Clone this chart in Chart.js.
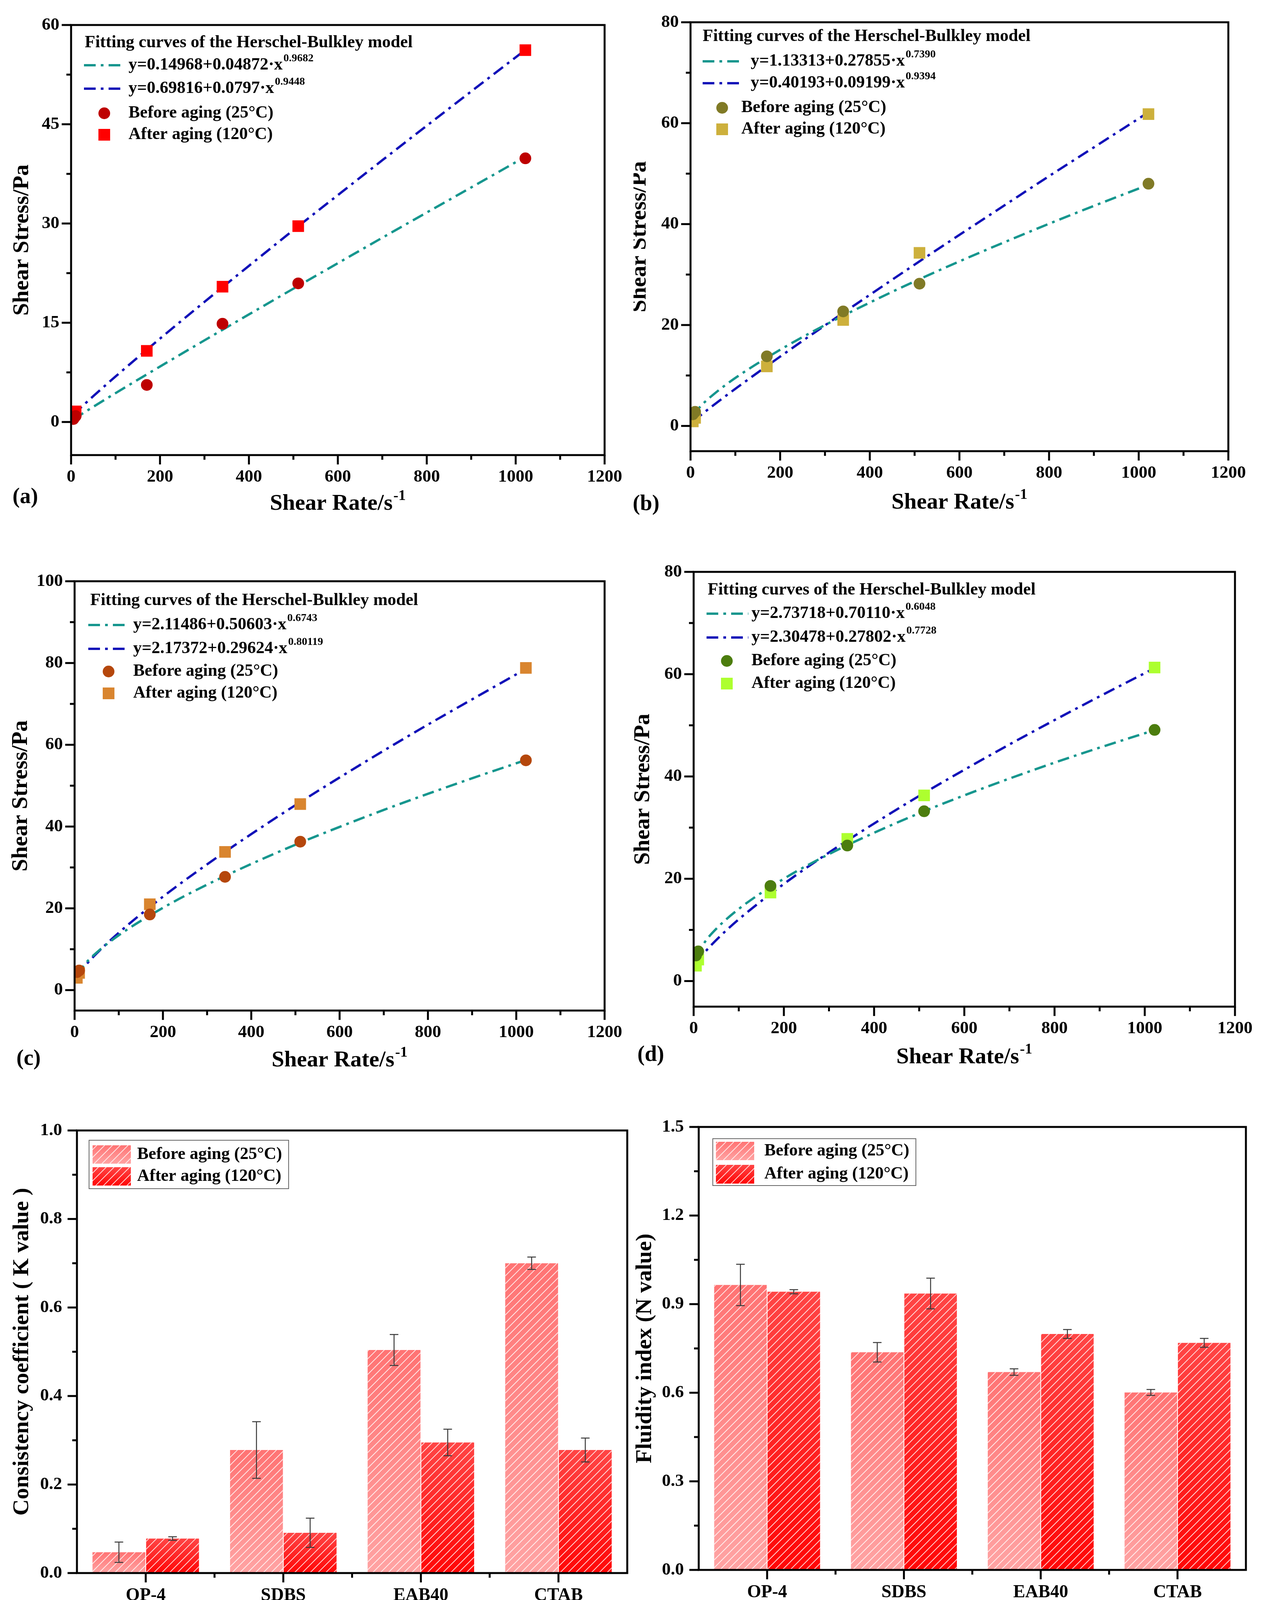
<!DOCTYPE html>
<html>
<head>
<meta charset="utf-8">
<title>Herschel-Bulkley fitting curves and K / N values</title>
<script src="https://cdn.jsdelivr.net/npm/chart.js@4.4.0/dist/chart.umd.min.js"></script>
<style>
  html, body { margin: 0; padding: 0; background: #fff; }
  #page { position: relative; width: 3244px; height: 4219px; overflow: hidden; background: #fff; }
  #page canvas { position: absolute; }
</style>
</head>
<body>
<div id="page"></div>
<script>
// ---- values ----
const shearRates = [5.11, 10.22, 170.3, 340.6, 510.9, 1021.8];
const fitRates = [5, 25, 50, 100, 200, 300, 400, 500, 600, 700, 800, 900, 1020];

const stressBeforeA = [0.45, 0.9, 5.6, 14.85, 20.95, 39.85];
const stressAfterA = [1.0, 1.6, 10.75, 20.45, 29.6, 56.2];
const fitBeforeA = [0.38, 1.25, 2.30, 4.36, 8.38, 12.34, 16.26, 20.15, 24.00, 27.85, 31.66, 35.45, 40.02];
const fitAfterA = [1.06, 2.37, 3.91, 6.88, 12.60, 18.15, 23.60, 29.00, 34.29, 39.56, 44.78, 49.96, 56.15];

const stressBeforeB = [2.3, 2.8, 13.8, 22.7, 28.2, 48.0];
const stressAfterB = [0.9, 1.6, 11.8, 21.0, 34.3, 61.8];
const fitBeforeB = [2.05, 4.14, 6.15, 9.51, 15.10, 19.99, 24.45, 28.65, 32.61, 36.40, 40.07, 43.61, 47.73];
const fitAfterB = [0.82, 2.29, 4.03, 7.36, 13.74, 19.93, 25.98, 31.97, 37.86, 43.69, 49.51, 55.21, 62.06];

const stressBeforeC = [4.4, 4.8, 18.5, 27.7, 36.3, 56.2];
const stressAfterC = [3.0, 4.2, 21.0, 33.8, 45.5, 78.8];
const fitBeforeC = [3.61, 6.55, 9.19, 13.41, 20.13, 25.80, 30.86, 35.56, 39.92, 44.07, 48.01, 51.81, 56.21];
const fitAfterC = [3.25, 6.08, 8.98, 14.03, 22.84, 30.76, 38.16, 45.24, 52.00, 58.57, 64.94, 71.11, 78.45];

const stressBeforeD = [5.0, 5.8, 18.6, 26.5, 33.2, 49.1];
const stressAfterD = [3.0, 4.2, 17.3, 27.8, 36.3, 61.3];
const fitBeforeD = [4.59, 7.65, 10.21, 14.10, 20.01, 24.82, 28.99, 32.81, 36.31, 39.59, 42.70, 45.64, 49.01];
const fitAfterD = [3.27, 5.65, 8.02, 12.07, 18.99, 25.13, 30.80, 36.20, 41.31, 46.26, 51.02, 55.66, 61.10];

const emulsifiers = ['OP-4', 'SDBS', 'EAB40', 'CTAB'];
const kBefore = [0.047, 0.278, 0.504, 0.700];
const kBeforeErr = [0.023, 0.064, 0.035, 0.014];
const kAfter = [0.078, 0.091, 0.295, 0.278];
const kAfterErr = [0.004, 0.033, 0.030, 0.027];
const nBefore = [0.965, 0.737, 0.670, 0.601];
const nBeforeErr = [0.070, 0.033, 0.011, 0.010];
const nAfter = [0.942, 0.936, 0.799, 0.769];
const nAfterErr = [0.007, 0.052, 0.015, 0.015];

const shearRateTicks = [0, 200, 400, 600, 800, 1000, 1200];
const stressTicksA = [0, 15, 30, 45, 60];
const stressTicksBD = [0, 20, 40, 60, 80];
const stressTicksC = [0, 20, 40, 60, 80, 100];
const kTicks = [0, 0.2, 0.4, 0.6, 0.8, 1.0];
const nTicks = [0, 0.3, 0.6, 0.9, 1.2, 1.5];

// ---- styling ----
const FAMILY = "'Liberation Serif', 'Times New Roman', Times, serif";
const font = (px) => 'bold ' + px + 'px ' + FAMILY;
const FIT_DASH = [30, 13, 7, 13];
const TEAL = '#16968e';
const NAVY = '#1212b8';
const LEGEND_TITLE = 'Fitting curves of the Herschel-Bulkley model';
const BEFORE_LABEL = 'Before aging (25°C)';
const AFTER_LABEL = 'After aging (120°C)';
const WY = 120, HX = 100;
const specs = {};

function makeCanvas(id, cell) {
  const c = document.createElement('canvas');
  c.id = id;
  c.width = cell[2];
  c.height = cell[3];
  c.style.left = cell[0] + 'px';
  c.style.top = cell[1] + 'px';
  c.style.width = cell[2] + 'px';
  c.style.height = cell[3] + 'px';
  document.getElementById('page').appendChild(c);
  return c;
}

function layoutPadding(cell, plot) {
  return {
    left: plot[0] - cell[0] - WY,
    top: plot[1] - cell[1],
    right: cell[0] + cell[2] - plot[2],
    bottom: cell[1] + cell[3] - plot[3] - HX,
  };
}

const fixedTicks = (values) => (scale) => { scale.ticks = values.map(v => ({ value: v })); };
const zip = (xs, ys) => xs.map((x, i) => ({ x: x, y: ys[i] }));

function midpoints(vals) {
  const out = [];
  for (let i = 0; i + 1 < vals.length; i++) out.push((vals[i] + vals[i + 1]) / 2);
  return out;
}

function seg(ctx, x0, y0, x1, y1) {
  ctx.beginPath();
  ctx.moveTo(x0, y0);
  ctx.lineTo(x1, y1);
  ctx.stroke();
}

// white "/" hatching inside a rectangle, anchored to a global grid
function hatch(ctx, x0, y0, x1, y1) {
  const step = 20;
  ctx.save();
  ctx.beginPath();
  ctx.rect(x0, y0, x1 - x0, y1 - y0);
  ctx.clip();
  ctx.strokeStyle = 'rgba(255,255,255,0.8)';
  ctx.lineWidth = 2;
  ctx.beginPath();
  const kFrom = Math.floor((x0 + y0) / step) - 1;
  const kTo = Math.ceil((x1 + y1) / step) + 1;
  for (let k = kFrom; k <= kTo; k++) {
    const c = k * step;
    ctx.moveTo(c - y1, y1);
    ctx.lineTo(c - y0, y0);
  }
  ctx.stroke();
  ctx.restore();
}

function barGradient(top, bottom) {
  return (c) => {
    const chart = c.chart;
    if (!chart.chartArea || c.type !== 'data') return top;
    const ys = chart.scales.y;
    const y0 = ys.getPixelForValue(c.raw);
    const y1 = ys.getPixelForValue(0);
    const g = chart.ctx.createLinearGradient(0, y0, 0, Math.max(y1, y0 + 1));
    g.addColorStop(0, top);
    g.addColorStop(1, bottom);
    return g;
  };
}

function drawSup(ctx, base, sup, x, y, size, supSize, rise) {
  ctx.font = font(size);
  ctx.fillText(base, x, y);
  const w = ctx.measureText(base).width;
  ctx.font = font(supSize);
  ctx.fillText(sup, x + w + 2, y - rise);
}

const panelPlugin = {
  id: 'panelDecor',
  afterDatasetsDraw(chart) {
    const s = specs[chart.canvas.id];
    if (!s || s.kind !== 'bar') return;
    const ctx = chart.ctx, ys = chart.scales.y;
    chart.data.datasets.forEach((ds, i) => {
      chart.getDatasetMeta(i).data.forEach(bar => {
        const p = bar.getProps(['x', 'y', 'base', 'width'], true);
        hatch(ctx, p.x - p.width / 2, p.y, p.x + p.width / 2, p.base);
      });
    });
    ctx.save();
    ctx.strokeStyle = '#3a3a3a';
    ctx.lineWidth = 2.5;
    chart.data.datasets.forEach((ds, i) => {
      chart.getDatasetMeta(i).data.forEach((bar, j) => {
        const v = ds.data[j], e = s.errors[i][j];
        const yt = ys.getPixelForValue(v + e), yb = ys.getPixelForValue(v - e);
        seg(ctx, bar.x, yt, bar.x, yb);
        seg(ctx, bar.x - 11, yt, bar.x + 11, yt);
        seg(ctx, bar.x - 11, yb, bar.x + 11, yb);
      });
    });
    ctx.restore();
  },
  afterDraw(chart) {
    const s = specs[chart.canvas.id];
    if (!s) return;
    const ctx = chart.ctx, a = chart.chartArea, xs = chart.scales.x, ys = chart.scales.y;
    const ox = s.cell[0], oy = s.cell[1];
    ctx.save();
    ctx.strokeStyle = '#000';
    ctx.lineWidth = 5;
    // ticks, outward: long major, short minor
    s.yTicks.forEach(v => { const p = ys.getPixelForValue(v); seg(ctx, a.left - 24, p, a.left, p); });
    midpoints(s.yTicks).forEach(v => { const p = ys.getPixelForValue(v); seg(ctx, a.left - 12, p, a.left, p); });
    let xMajor, xMinor;
    if (s.kind === 'bar') {
      xMajor = chart.data.labels.map((_, i) => xs.getPixelForValue(i));
      xMinor = midpoints(xMajor);
    } else {
      xMajor = s.xTicks.map(v => xs.getPixelForValue(v));
      xMinor = midpoints(s.xTicks).map(v => xs.getPixelForValue(v));
    }
    xMajor.forEach(p => seg(ctx, p, a.bottom, p, a.bottom + 24));
    xMinor.forEach(p => seg(ctx, p, a.bottom, p, a.bottom + 12));
    ctx.strokeRect(a.left, a.top, a.right - a.left, a.bottom - a.top);

    ctx.fillStyle = '#000';
    ctx.textBaseline = 'middle';
    // y title
    ctx.save();
    ctx.translate(a.left - s.yTitleDx, (a.top + a.bottom) / 2);
    ctx.rotate(-Math.PI / 2);
    ctx.textAlign = 'center';
    ctx.font = font(58);
    ctx.fillText(s.yTitle, 0, 0);
    ctx.restore();
    // x title
    const cx = (a.left + a.right) / 2, ty = s.xTitleY - oy;
    ctx.textAlign = 'left';
    if (s.xTitleSup) {
      ctx.font = font(58);
      const w1 = ctx.measureText(s.xTitle).width;
      ctx.font = font(38);
      const w2 = ctx.measureText(s.xTitleSup).width;
      drawSup(ctx, s.xTitle, s.xTitleSup, cx - (w1 + w2 + 2) / 2, ty, 58, 38, 20);
    } else {
      ctx.textAlign = 'center';
      ctx.font = font(58);
      ctx.fillText(s.xTitle, cx, ty);
      ctx.textAlign = 'left';
    }
    // panel letter
    ctx.font = font(56);
    ctx.fillText(s.letter, s.letterX - ox, s.letterY - oy);

    // legend
    const L = s.legend;
    if (s.kind === 'scatter') {
      ctx.font = font(44);
      ctx.fillText(LEGEND_TITLE, L.titleX - ox, L.titleY - oy);
      s.fits.forEach((f, i) => {
        const y = L.rows[i] - oy;
        ctx.save();
        ctx.strokeStyle = f.color;
        ctx.lineWidth = 6;
        ctx.setLineDash(FIT_DASH);
        seg(ctx, L.lineX0 - ox, y, L.lineX1 - ox, y);
        ctx.restore();
        drawSup(ctx, f.base, f.sup, L.fitTextX - ox, y, 44, 28, 17);
      });
      s.markers.forEach((m, i) => {
        const y = L.rows[i + 2] - oy, x = L.markerX - ox;
        ctx.fillStyle = m.color;
        ctx.beginPath();
        if (m.shape === 'circle') ctx.arc(x, y, 15, 0, Math.PI * 2);
        else ctx.rect(x - 15, y - 15, 30, 30);
        ctx.fill();
        ctx.fillStyle = '#000';
        ctx.font = font(44);
        ctx.fillText(m.text, L.markerTextX - ox, y);
      });
    } else {
      ctx.strokeStyle = '#666';
      ctx.lineWidth = 2;
      ctx.strokeRect(L.box[0] - ox, L.box[1] - oy, L.box[2] - L.box[0], L.box[3] - L.box[1]);
      L.swatches.forEach((sw, i) => {
        const x0 = L.swX0 - ox, x1 = L.swX1 - ox, y0 = sw[0] - oy, y1 = sw[1] - oy;
        const g = ctx.createLinearGradient(0, y0, 0, y1);
        g.addColorStop(0, s.colors[i][0]);
        g.addColorStop(1, s.colors[i][1]);
        ctx.fillStyle = g;
        ctx.fillRect(x0, y0, x1 - x0, y1 - y0);
        hatch(ctx, x0, y0, x1, y1);
        ctx.fillStyle = '#000';
        ctx.font = font(44);
        ctx.fillText(chart.data.datasets[i].label, L.textX - ox, (y0 + y1) / 2);
      });
    }
    ctx.restore();
  }
};

const tickFont = { family: FAMILY, size: 45, weight: 'bold' };

function scatterPanel(id, cell, plot, yMin, yMax, yTicks, before, after, fitB, fitA, colors, fits, extra) {
  const canvas = makeCanvas(id, cell);
  specs[id] = Object.assign({
    kind: 'scatter', cell: cell, xTicks: shearRateTicks, yTicks: yTicks,
    yTitle: 'Shear Stress/Pa', xTitle: 'Shear Rate/s', xTitleSup: '-1',
    fits: [
      { color: TEAL, base: fits[0][0], sup: fits[0][1] },
      { color: NAVY, base: fits[1][0], sup: fits[1][1] },
    ],
    markers: [
      { shape: 'circle', color: colors[0], text: BEFORE_LABEL },
      { shape: 'rect', color: colors[1], text: AFTER_LABEL },
    ],
  }, extra);
  new Chart(canvas, {
    type: 'scatter',
    data: {
      datasets: [
        { label: BEFORE_LABEL, data: zip(shearRates, before), pointStyle: 'circle', pointRadius: 15,
          backgroundColor: colors[0], borderColor: colors[0], borderWidth: 0, showLine: false },
        { label: AFTER_LABEL, data: zip(shearRates, after), pointStyle: 'rect', pointRadius: 21,
          backgroundColor: colors[1], borderColor: colors[1], borderWidth: 0, showLine: false },
        { type: 'line', label: fits[0][0], data: zip(fitRates, fitB), borderColor: TEAL, borderWidth: 6,
          borderDash: FIT_DASH, pointRadius: 0, fill: false, cubicInterpolationMode: 'monotone' },
        { type: 'line', label: fits[1][0], data: zip(fitRates, fitA), borderColor: NAVY, borderWidth: 6,
          borderDash: FIT_DASH, pointRadius: 0, fill: false, cubicInterpolationMode: 'monotone' },
      ],
    },
    options: {
      responsive: false, animation: false, devicePixelRatio: 1, events: [],
      layout: { padding: layoutPadding(cell, plot) },
      plugins: { legend: { display: false }, tooltip: { enabled: false } },
      scales: {
        x: {
          type: 'linear', min: 0, max: 1200,
          afterBuildTicks: fixedTicks(shearRateTicks),
          afterFit: (sc) => { sc.height = HX; },
          grid: { display: false, drawTicks: false }, border: { display: false },
          ticks: { font: tickFont, color: '#000', padding: 29, maxRotation: 0, autoSkip: false,
                   callback: (v) => String(v) },
        },
        y: {
          type: 'linear', min: yMin, max: yMax,
          afterBuildTicks: fixedTicks(yTicks),
          afterFit: (sc) => { sc.width = WY; },
          grid: { display: false, drawTicks: false }, border: { display: false },
          ticks: { font: tickFont, color: '#000', padding: 30, autoSkip: false,
                   callback: (v) => String(v) },
        },
      },
    },
    plugins: [panelPlugin],
  });
}

function barPanel(id, cell, plot, yMax, yTicks, before, beforeErr, after, afterErr, extra) {
  const canvas = makeCanvas(id, cell);
  const colors = [['#ff7373', '#ffa3a3'], ['#ff4545', '#ff0606']];
  specs[id] = Object.assign({
    kind: 'bar', cell: cell, yTicks: yTicks, errors: [beforeErr, afterErr], colors: colors,
    xTitle: 'Emulsifier type',
  }, extra);
  new Chart(canvas, {
    type: 'bar',
    data: {
      labels: emulsifiers,
      datasets: [
        { label: BEFORE_LABEL, data: before, backgroundColor: barGradient(colors[0][0], colors[0][1]),
          borderWidth: 0, categoryPercentage: 0.78, barPercentage: 0.985 },
        { label: AFTER_LABEL, data: after, backgroundColor: barGradient(colors[1][0], colors[1][1]),
          borderWidth: 0, categoryPercentage: 0.78, barPercentage: 0.985 },
      ],
    },
    options: {
      responsive: false, animation: false, devicePixelRatio: 1, events: [],
      layout: { padding: layoutPadding(cell, plot) },
      plugins: { legend: { display: false }, tooltip: { enabled: false } },
      scales: {
        x: {
          type: 'category', offset: true,
          afterFit: (sc) => { sc.height = HX; },
          grid: { display: false, drawTicks: false }, border: { display: false },
          ticks: { font: { family: FAMILY, size: 46, weight: 'bold' }, color: '#000', padding: 31, maxRotation: 0 },
        },
        y: {
          type: 'linear', min: 0, max: yMax,
          afterBuildTicks: fixedTicks(yTicks),
          afterFit: (sc) => { sc.width = WY; },
          grid: { display: false, drawTicks: false }, border: { display: false },
          ticks: { font: tickFont, color: '#000', padding: 38, autoSkip: false,
                   callback: (v) => Number(v).toFixed(1) },
        },
      },
    },
    plugins: [panelPlugin],
  });
}

scatterPanel('chartA', [0, 0, 1622, 1400], [182, 64, 1552, 1165], -5, 60, stressTicksA,
  stressBeforeA, stressAfterA, fitBeforeA, fitAfterA, ['#be0000', '#ff0000'],
  [['y=0.14968+0.04872·x', '0.9682'], ['y=0.69816+0.0797·x', '0.9448']],
  { letter: '(a)', letterX: 32, letterY: 1274, xTitleY: 1290, yTitleDx: 125,
    legend: { titleX: 217, titleY: 110, rows: [167, 227, 290, 345], lineX0: 215, lineX1: 315,
              fitTextX: 329, markerX: 267, markerTextX: 329 } });

scatterPanel('chartB', [1622, 0, 1622, 1400], [1768, 53, 3145, 1155], -5, 80, stressTicksBD,
  stressBeforeB, stressAfterB, fitBeforeB, fitAfterB, ['#807a26', '#cdb03c'],
  [['y=1.13313+0.27855·x', '0.7390'], ['y=0.40193+0.09199·x', '0.9394']],
  { letter: '(b)', letterX: 1620, letterY: 1292, xTitleY: 1287, yTitleDx: 130,
    legend: { titleX: 1799, titleY: 94, rows: [157, 213, 276, 331], lineX0: 1799, lineX1: 1898,
              fitTextX: 1922, markerX: 1849, markerTextX: 1898 } });

scatterPanel('chartC', [0, 1400, 1622, 1420], [191, 1488, 1561, 2587], -5, 100, stressTicksC,
  stressBeforeC, stressAfterC, fitBeforeC, fitAfterC, ['#b5470c', '#d9852f'],
  [['y=2.11486+0.50603·x', '0.6743'], ['y=2.17372+0.29624·x', '0.80119']],
  { letter: '(c)', letterX: 42, letterY: 2712, xTitleY: 2715, yTitleDx: 137,
    legend: { titleX: 231, titleY: 1538, rows: [1600, 1661, 1719, 1775], lineX0: 226, lineX1: 330,
              fitTextX: 341, markerX: 278, markerTextX: 341 } });

scatterPanel('chartD', [1622, 1400, 1622, 1420], [1776, 1464, 3162, 2577], -5, 80, stressTicksBD,
  stressBeforeD, stressAfterD, fitBeforeD, fitAfterD, ['#4c7d0e', '#adff2f'],
  [['y=2.73718+0.70110·x', '0.6048'], ['y=2.30478+0.27802·x', '0.7728']],
  { letter: '(d)', letterX: 1632, letterY: 2702, xTitleY: 2707, yTitleDx: 129,
    legend: { titleX: 1812, titleY: 1511, rows: [1571, 1632, 1692, 1750], lineX0: 1809, lineX1: 1916,
              fitTextX: 1924, markerX: 1861, markerTextX: 1924 } });

barPanel('chartE', [0, 2820, 1622, 1399], [197, 2894, 1606, 4027], 1.0, kTicks,
  kBefore, kBeforeErr, kAfter, kAfterErr,
  { letter: '(e)', letterX: 36, letterY: 4148, xTitleY: 4159, yTitleDx: 140,
    yTitle: 'Consistency coefficient ( K value )',
    legend: { box: [228, 2919, 739, 3043], swX0: 237, swX1: 335, textX: 351,
              swatches: [[2932, 2979], [2988, 3035]] } });

barPanel('chartF', [1622, 2820, 1622, 1399], [1789, 2885, 3190, 4019], 1.5, nTicks,
  nBefore, nBeforeErr, nAfter, nAfterErr,
  { letter: '(f)', letterX: 1650, letterY: 4148, xTitleY: 4156, yTitleDx: 137,
    yTitle: 'Fluidity index (N value)',
    legend: { box: [1825, 2915, 2345, 3035], swX0: 1833, swX1: 1931, textX: 1957,
              swatches: [[2923, 2970], [2982, 3030]] } });
</script>
</body>
</html>
